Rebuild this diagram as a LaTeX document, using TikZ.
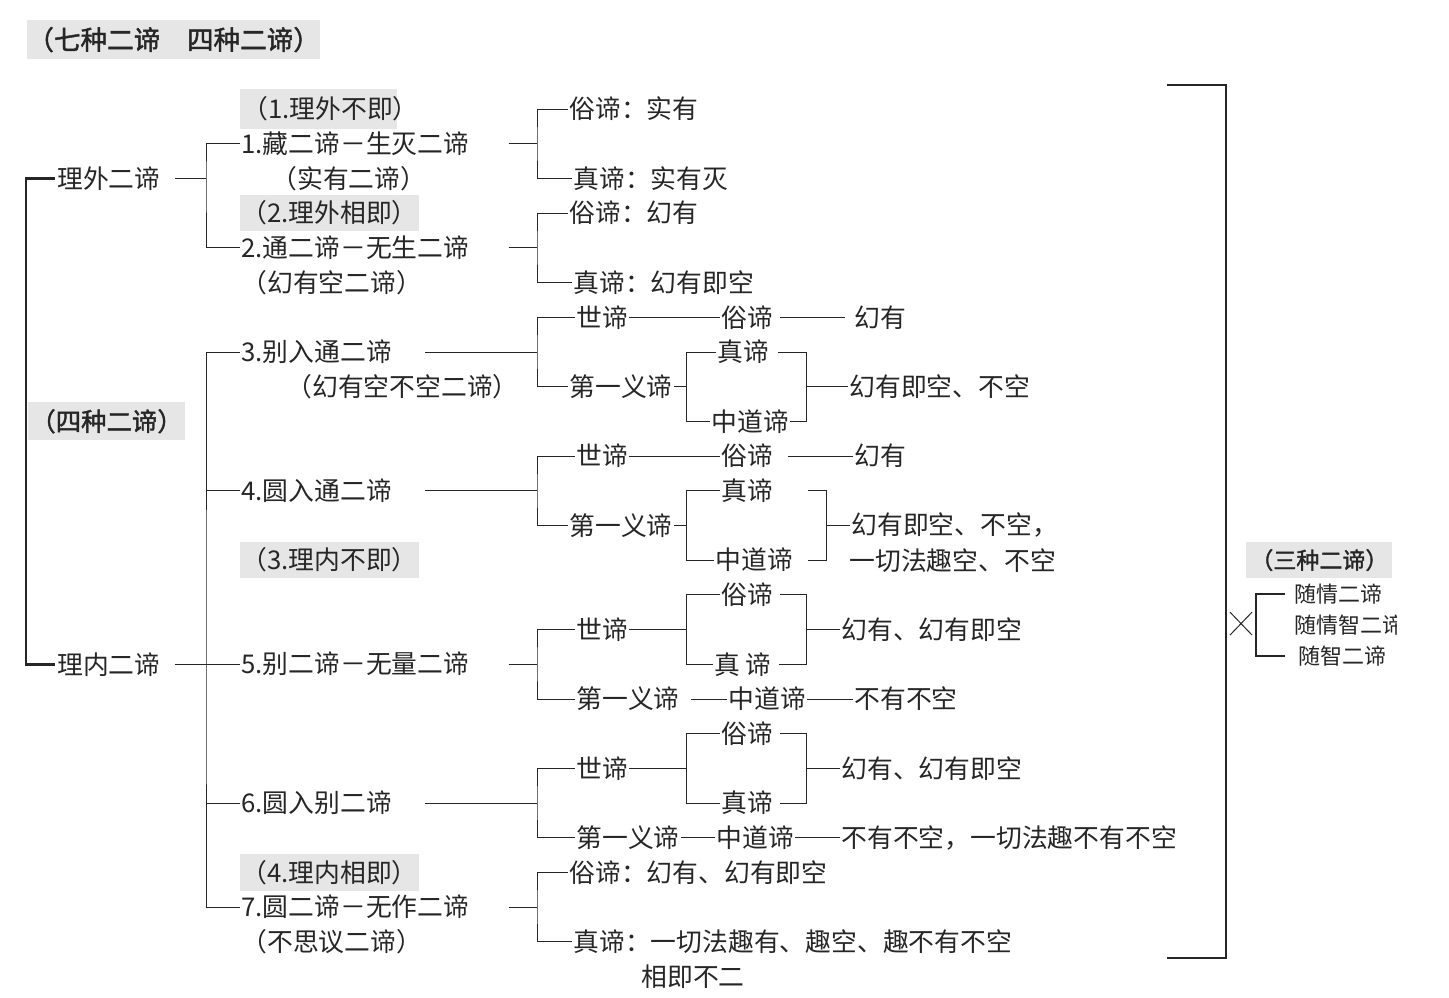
\documentclass[tikz,border=0pt]{standalone}
\usepackage{fontspec}
\usetikzlibrary{backgrounds}
\setmainfont{Noto Sans CJK SC}
\newfontfamily\heavy[FakeBold=1.6]{Noto Sans CJK SC}
\definecolor{tagfill}{HTML}{E6E6E6}
\definecolor{ink}{HTML}{262626}

\begin{document}
\begin{tikzpicture}[x = 0.5pt, y = -17.35pt, line width = 1.35pt, color = ink,
    txt/.style = {anchor = west, inner xsep = 0.5pt, inner ysep = 1pt, font = \fontsize{12.9}{15}\selectfont},
    tagbox/.style = {txt, fill = tagfill, inner ysep = 3pt},
    headbox/.style = {anchor = west, fill = tagfill, inner xsep = 1pt, inner ysep = 3.5pt, font = \heavy\fontsize{12.7}{16}\selectfont},
    sidetxt/.style = {anchor = west, inner sep = 0.5pt, font = \fontsize{11}{13}\selectfont}]
      \useasboundingbox (0,-3.141) rectangle (1449,25.591);
      \node [headbox, inner xsep = 0pt, font = \heavy\fontsize{13.3}{16}\selectfont] (title) at (26,-2) {（七种二谛　四种二谛）};
      \node [txt] (lw) at (55,2) {理外二谛};
      \node [txt] (ln) at (55,16) {理内二谛};
      \coordinate (root) at (26,9);
      \draw (lw.west) -| (root) |- (ln.west);
      \node [headbox] (four) at (27,9) {（四种二谛）};
      \node [txt, inner ysep = 3pt] (t1) at (240,0) {（1.理外不即）};
      \begin{pgfonlayer}{background}
        \fill [tagfill] (t1.north west) rectangle ([xshift = -12pt]t1.south east);
      \end{pgfonlayer}
      \node [txt] (i1) at (240,1) {1.藏二谛－生灭二谛};
      \node [txt] (n1) at (270,2) {（实有二谛）};
      \node [tagbox] (t2) at (240,3) {（2.理外相即）};
      \node [txt] (i2) at (240,4) {2.通二谛－无生二谛};
      \node [txt] (n2) at (240,5) {（幻有空二谛）};
      \node [txt] (i3) at (240,7) {3.别入通二谛};
      \node [txt] (n3) at (285,8) {（幻有空不空二谛）};
      \node [txt] (i4) at (240,11) {4.圆入通二谛};
      \node [tagbox] (t3) at (240,13) {（3.理内不即）};
      \node [txt] (i5) at (240,16) {5.别二谛－无量二谛};
      \node [txt] (i6) at (240,20) {6.圆入别二谛};
      \node [tagbox] (t4) at (240,22) {（4.理内相即）};
      \node [txt] (i7) at (240,23) {7.圆二谛－无作二谛};
      \node [txt] (n7) at (240,24) {（不思议二谛）};
      \coordinate (fo) at (206,2);
      \draw ([xshift = 6pt]lw.east) -- (fo);
      \draw (i1.west) -| (fo) |- (i2.west);
      \coordinate (fi) at (206,16);
      \draw ([xshift = 6pt]ln.east) -- (i5.west);
      \draw (i3.west) -| (fi) |- (i7.west);
      \draw (i4.west) -- (i4.west -| fi);
      \draw (i6.west) -- (i6.west -| fi);
      \coordinate (j1) at (537,1);
      \node [txt] (a1) at (568,0) {俗谛：实有};
      \node [txt] (b1) at (572,2) {真谛：实有灭};
      \draw ([xshift = 19pt]i1.east) -- (j1);
      \draw (a1.west) -| (j1) |- (b1.west);
      \coordinate (j2) at (537,4);
      \node [txt] (a2) at (568,3) {俗谛：幻有};
      \node [txt] (b2) at (572,5) {真谛：幻有即空};
      \draw ([xshift = 19pt]i2.east) -- (j2);
      \draw (a2.west) -| (j2) |- (b2.west);
      \coordinate (j3) at (537,7);
      \node [txt] (s3) at (575,6) {世谛};
      \node [txt] (u3) at (720,6) {俗谛};
      \node [txt] (h3) at (853,6) {幻有};
      \node [txt] (d3) at (568,8) {第一义谛};
      \node [txt] (z3) at (716,7) {真谛};
      \node [txt] (m3) at (710,9) {中道谛};
      \node [txt] (o3) at (848,8) {幻有即空、不空};
      \coordinate (k3) at (686,8);
      \coordinate (r3) at (806,8);
      \draw ([xshift = 16pt]i3.east) -- (j3);
      \draw (s3.west) -| (j3) |- (d3.west);
      \draw (s3.east) -- (u3.west);
      \draw ([xshift = 3pt]u3.east) -- ([xshift = -4pt]h3.west);
      \draw (d3.east) -- (k3);
      \draw (z3.west) -| (k3) |- (m3.west);
      \draw ([xshift = 4pt]z3.east) -| (r3) |- (m3.east);
      \draw (r3) -- (o3.west);
      \coordinate (j4) at (537,11);
      \node [txt] (s4) at (575,10) {世谛};
      \node [txt] (u4) at (720,10) {俗谛};
      \node [txt] (h4) at (853,10) {幻有};
      \node [txt] (d4) at (568,12) {第一义谛};
      \node [txt] (z4) at (720,11) {真谛};
      \node [txt] (m4) at (714,13) {中道谛};
      \node [txt] (o4) at (850,12) {幻有即空、不空，};
      \node [txt] (o4b) at (848,13) {一切法趣空、不空};
      \coordinate (k4) at (686,12);
      \coordinate (r4) at (826,12);
      \draw ([xshift = 16pt]i4.east) -- (j4);
      \draw (s4.west) -| (j4) |- (d4.west);
      \draw (s4.east) -- (u4.west);
      \draw ([xshift = 7pt]u4.east) -- (h4.west);
      \draw (d4.east) -- (k4);
      \draw (z4.west) -| (k4) |- (m4.west);
      \draw ([xshift = 17pt]z4.east) -| (r4) |- ([xshift = 7pt]m4.east);
      \draw (r4) -- (o4.west);
      \coordinate (j5) at (537,16);
      \node [txt] (s5) at (575,15) {世谛};
      \node [txt] (u5) at (720,14) {俗谛};
      \node [txt] (z5) at (713,16) {真~谛};
      \node [txt] (o5) at (840,15) {幻有、幻有即空};
      \node [txt] (d5) at (575,17) {第一义谛};
      \node [txt] (m5) at (727,17) {中道谛};
      \node [txt] (o5b) at (853,17) {不有不空};
      \coordinate (k5) at (686,15);
      \coordinate (r5) at (806,15);
      \draw ([xshift = 19pt]i5.east) -- (j5);
      \draw (s5.west) -| (j5) |- (d5.west);
      \draw (s5.east) -- (k5);
      \draw (u5.west) -| (k5) |- (z5.west);
      \draw ([xshift = 3pt]u5.east) -| (r5) |- ([xshift = 3pt]z5.east);
      \draw (r5) -- (o5.west);
      \draw ([xshift = 5pt]d5.east) -- (m5.west);
      \draw (m5.east) -- (o5b.west);
      \coordinate (j6) at (537,20);
      \node [txt] (s6) at (575,19) {世谛};
      \node [txt] (u6) at (720,18) {俗谛};
      \node [txt] (z6) at (720,20) {真谛};
      \node [txt] (o6) at (840,19) {幻有、幻有即空};
      \node [txt] (d6) at (575,21) {第一义谛};
      \node [txt] (m6) at (715,21) {中道谛};
      \node [txt] (o6b) at (840,21) {不有不空，一切法趣不有不空};
      \coordinate (k6) at (686,19);
      \coordinate (r6) at (806,19);
      \draw ([xshift = 16pt]i6.east) -- (j6);
      \draw (s6.west) -| (j6) |- (d6.west);
      \draw (s6.east) -- (k6);
      \draw (u6.west) -| (k6) |- (z6.west);
      \draw ([xshift = 3pt]u6.east) -| (r6) |- ([xshift = 3pt]z6.east);
      \draw (r6) -- (o6.west);
      \draw (d6.east) -- (m6.west);
      \draw (m6.east) -- (o6b.west);
      \coordinate (j7) at (537,23);
      \node [txt] (a7) at (568,22) {俗谛：幻有、幻有即空};
      \node [txt] (b7) at (572,24) {真谛：一切法趣有、趣空、趣不有不空};
      \node [txt] (c7) at (640,25) {相即不二};
      \draw ([xshift = 19pt]i7.east) -- (j7);
      \draw (a7.west) -| (j7) |- (b7.west);
      \coordinate (bt) at (1167,-0.69);
      \coordinate (bs) at (1226,12);
      \coordinate (bb) at (1167,24.47);
      \draw [line width = 1.1pt] (bt) -| (bs) |- (bb);
      \node [headbox, inner xsep = 2pt, font = \heavy\fontsize{11.5}{14}\selectfont] (three) at (1246,13) {（三种二谛）};
      \begin{scope}
        \clip (1260,13.4) rectangle (1396,16.5);
        \node [sidetxt] (q1) at (1293,13.98) {随情二谛};
        \node [sidetxt] (q2) at (1293,14.87) {随情智二谛};
        \node [sidetxt] (q3) at (1297,15.76) {随智二谛};
      \end{scope}
      \coordinate (qs) at (1256,14.8);
      \draw [line width = 1.1pt] ([xshift = -4pt]q1.west) -| (qs) |- ([xshift = -6pt]q3.west);
      \draw [line width = .5pt] (1230,14.5) -- (1252,15.16) (1230,15.16) -- (1252,14.5);
\end{tikzpicture}
\end{document}
